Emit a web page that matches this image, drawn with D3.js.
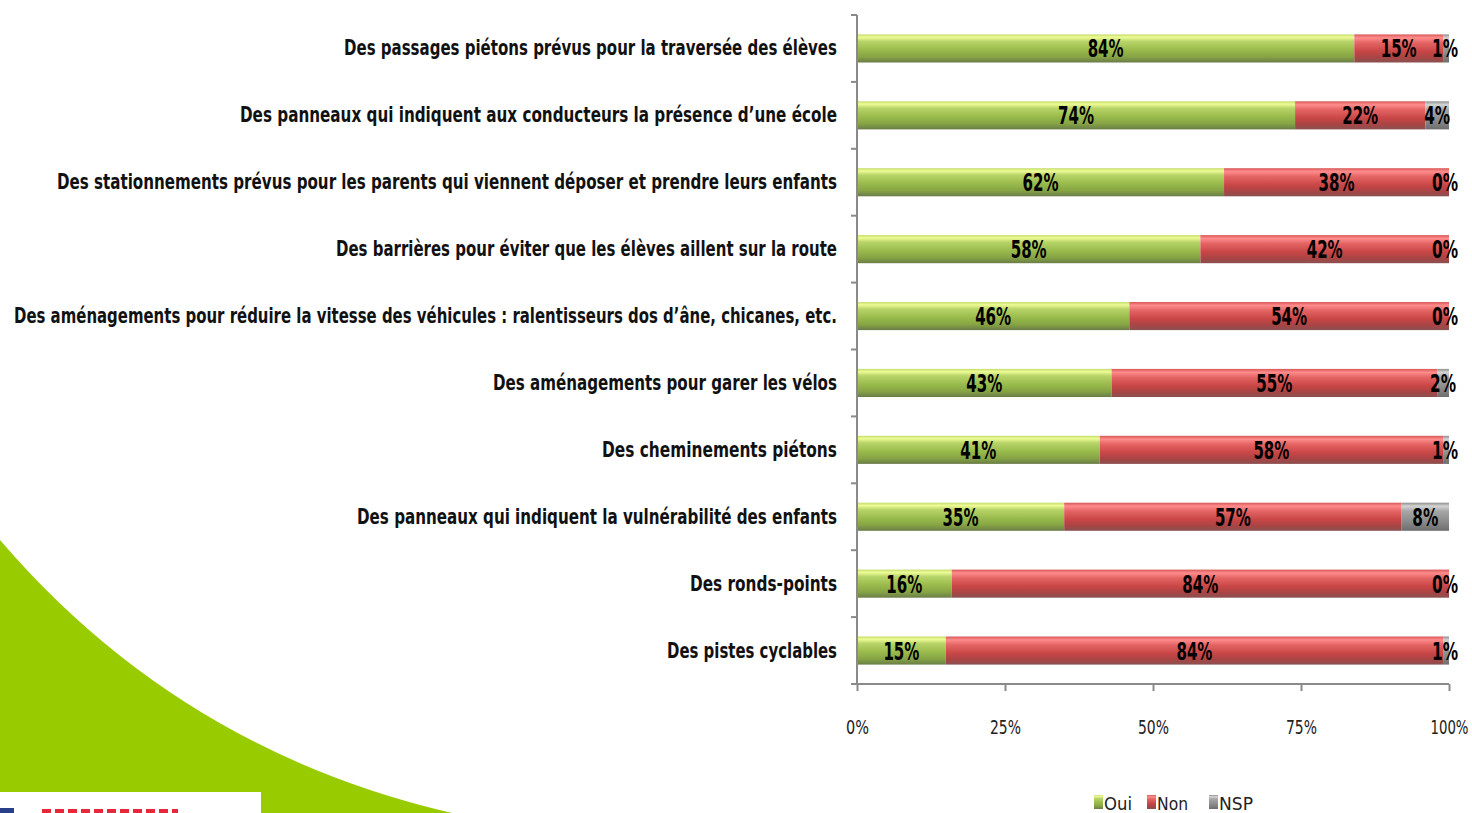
<!DOCTYPE html>
<meta charset="utf-8">
<style>
  body { margin: 0; background: #fff; }
  svg { display: block; }
  text { font-family: "DejaVu Sans Condensed", "Liberation Sans Narrow", sans-serif; font-stretch: condensed; }
  .cat { font-weight: bold; font-size: 21px; fill: #111; }
  .val { font-weight: bold; font-size: 24px; fill: #000; }
  .axis path, .axis line { stroke: #8a8a8a; stroke-width: 2; fill: none; }
  .axis text { font-family: "DejaVu Sans Condensed", sans-serif; font-size: 19px; fill: #222; }
  .legend text { font-size: 18px; fill: #222; }
</style>
<body>
<script src="https://d3js.org/d3.v7.min.js"></script>
<script>
var categories = [
  "Des passages piétons prévus pour la traversée des élèves",
  "Des panneaux qui indiquent aux conducteurs la présence d’une école",
  "Des stationnements prévus pour les parents qui viennent déposer et prendre leurs enfants",
  "Des barrières pour éviter que les élèves aillent sur la route",
  "Des aménagements pour réduire la vitesse des véhicules : ralentisseurs dos d’âne, chicanes, etc.",
  "Des aménagements pour garer les vélos",
  "Des cheminements piétons",
  "Des panneaux qui indiquent la vulnérabilité des enfants",
  "Des ronds-points",
  "Des pistes cyclables"
];
var oui = [84, 74, 62, 58, 46, 43, 41, 35, 16, 15];
var non = [15, 22, 38, 42, 54, 55, 58, 57, 84, 84];
var nsp = [1, 4, 0, 0, 0, 2, 1, 8, 0, 1];
var seriesNames = ["Oui", "Non", "NSP"];
var ticks = [0, 25, 50, 75, 100];

// label widths as rendered in the original slide (its font is very condensed)
var labelWidths = [493, 597, 780, 501, 823, 344, 235, 480, 147, 170];

var W = 1472, H = 813;
var svg = d3.select("body").append("svg").attr("width", W).attr("height", H);

var defs = svg.append("defs");
function grad(id, stops) {
  var g = defs.append("linearGradient").attr("id", id)
    .attr("x1", 0).attr("y1", 0).attr("x2", 0).attr("y2", 1);
  stops.forEach(function(s) { g.append("stop").attr("offset", s[0]).attr("stop-color", s[1]); });
}
grad("gOui", [[0, "#c4dc6a"], [0.1, "#eefc96"], [0.25, "#b8d468"], [0.55, "#99bb4c"], [0.8, "#86a444"], [1, "#6a7c48"]]);
grad("gNon", [[0, "#d85858"], [0.12, "#ff8c8c"], [0.3, "#e46464"], [0.6, "#c94646"], [0.82, "#a94444"], [1, "#8a5050"]]);
grad("gNsp", [[0, "#8e8e8e"], [0.12, "#d4d4d4"], [0.3, "#a6a6a6"], [0.65, "#8c8c8c"], [1, "#6e6e6e"]]);
var fills = ["url(#gOui)", "url(#gNon)", "url(#gNsp)"];

// decorative background shape
svg.append("path")
  .attr("d", "M0,540 Q180,750 452,813 L0,813 Z")
  .attr("fill", "#99cc00");
svg.append("rect").attr("x", 0).attr("y", 792).attr("width", 261).attr("height", 21).attr("fill", "#fff");
svg.append("rect").attr("x", 0).attr("y", 808).attr("width", 14).attr("height", 5).attr("fill", "#2a3f8a");
svg.append("line").attr("x1", 42).attr("x2", 178).attr("y1", 811).attr("y2", 811)
  .attr("stroke", "#e8283a").attr("stroke-width", 4).attr("stroke-dasharray", "9,4");

var x = d3.scaleLinear().domain([0, 100]).range([857, 1449]);
var y = d3.scaleBand().domain(categories).range([15, 684]).paddingInner(0.58).paddingOuter(0.29);

var rows = categories.map(function(c, i) { return { cat: c, vals: [oui[i], non[i], nsp[i]] }; });

// bars
rows.forEach(function(r) {
  var acc = 0;
  r.vals.forEach(function(v, k) {
    var x0 = x(acc), x1 = x(acc + v);
    svg.append("rect")
      .attr("x", x0).attr("y", y(r.cat))
      .attr("width", Math.max(0, x1 - x0)).attr("height", y.bandwidth())
      .attr("fill", fills[k]);
    acc += v;
  });
});

// value labels
rows.forEach(function(r) {
  var acc = 0;
  r.vals.forEach(function(v, k) {
    var cx = x(acc + v / 2);
    if (k === 2) cx = Math.min(cx, x(100) - 4);
    svg.append("text").attr("class", "val")
      .attr("x", cx).attr("y", y(r.cat) + y.bandwidth() / 2 + 1)
      .attr("text-anchor", "middle").attr("dominant-baseline", "central")
      .attr("textLength", v >= 10 ? 36 : 26).attr("lengthAdjust", "spacingAndGlyphs")
      .text(v + "%");
    acc += v;
  });
});

// category labels
svg.selectAll("text.cat").data(categories).enter().append("text")
  .attr("class", "cat")
  .attr("x", 837)
  .attr("y", function(d) { return y(d) + y.bandwidth() / 2; })
  .attr("text-anchor", "end").attr("dominant-baseline", "central")
  .attr("textLength", function(d, i) { return labelWidths[i]; })
  .attr("lengthAdjust", "spacingAndGlyphs")
  .text(function(d) { return d; });

// axes
var xAxis = svg.append("g").attr("class", "axis")
  .attr("transform", "translate(0,684)")
  .call(d3.axisBottom(x).tickValues(ticks).tickSize(7).tickSizeOuter(0).tickPadding(30)
    .tickFormat(function(d) { return d + "%"; }));
xAxis.select(".domain").attr("d", "M851,0H1449");
xAxis.selectAll("text").attr("textLength", function(d) { return d === 100 ? 38 : (d === 0 ? 23 : 31); })
  .attr("lengthAdjust", "spacingAndGlyphs");

var yg = svg.append("g").attr("class", "axis");
yg.append("line").attr("x1", 857).attr("x2", 857).attr("y1", 15).attr("y2", 684);
var bounds = d3.range(categories.length + 1).map(function(i) { return 15 + i * y.step(); });
yg.selectAll("line.tk").data(bounds).enter().append("line").attr("class", "tk")
  .attr("x1", 851).attr("x2", 857)
  .attr("y1", function(d) { return d; }).attr("y2", function(d) { return d; });

// legend
var lg = svg.append("g").attr("class", "legend");
var lx = [1094, 1147, 1209];
var lw = [28, 31, 34];
seriesNames.forEach(function(n, k) {
  lg.append("rect").attr("x", lx[k]).attr("y", 795).attr("width", 9).attr("height", 14).attr("fill", fills[k]);
  lg.append("text").attr("x", lx[k] + 10).attr("y", 803).attr("dominant-baseline", "central")
    .attr("textLength", lw[k]).attr("lengthAdjust", "spacingAndGlyphs").text(n);
});
</script>
